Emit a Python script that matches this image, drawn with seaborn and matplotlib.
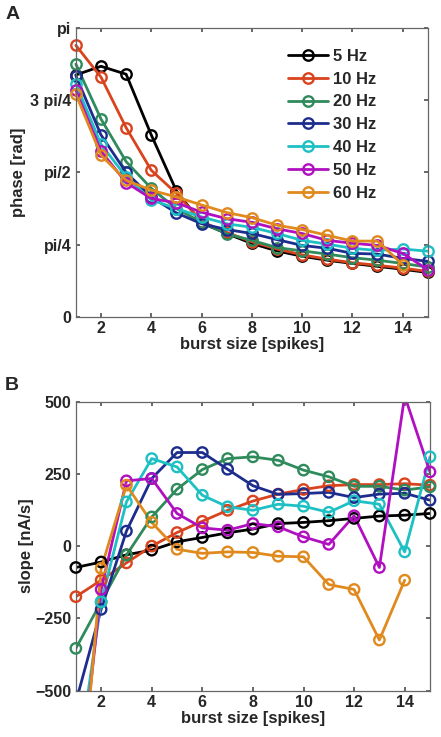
import numpy as np
import pandas as pd
import matplotlib
matplotlib.use("Agg")
import matplotlib.pyplot as plt
import seaborn as sns

# burst sizes and frequencies
burst = list(range(1, 16))
freqs = ["5 Hz", "10 Hz", "20 Hz", "30 Hz", "40 Hz", "50 Hz", "60 Hz"]
colors = ["#000000", "#D9431E", "#2F8A5C", "#1D2D8E", "#1FC0C4", "#B010C0", "#E08A1E"]

# phase (in units of pi/4)
phase_5 = [3.35, 3.47, 3.36, 2.52, 1.745, 1.30, 1.155, 1.017, 0.914, 0.84, 0.785, 0.74, 0.70, 0.66, 0.615]
phase_10 = [3.76, 3.32, 2.62, 2.03, 1.71, 1.32, 1.17, 1.04, 0.94, 0.86, 0.80, 0.75, 0.715, 0.675, 0.63]
phase_20 = [3.50, 2.74, 2.15, 1.78, 1.50, 1.31, 1.15, 1.06, 0.96, 0.914, 0.87, 0.82, 0.785, 0.74, 0.69]
phase_30 = [3.34, 2.52, 2.00, 1.66, 1.44, 1.29, 1.21, 1.155, 1.07, 0.99, 0.95, 0.88, 0.87, 0.81, 0.77]
phase_40 = [3.23, 2.39, 1.94, 1.62, 1.50, 1.385, 1.29, 1.24, 1.155, 1.06, 1.007, 0.95, 0.92, 0.94, 0.91]
phase_50 = [3.14, 2.295, 1.86, 1.64, 1.58, 1.45, 1.36, 1.31, 1.22, 1.155, 1.06, 1.02, 0.99, 0.88, 0.655]
phase_60 = [3.085, 2.24, 1.89, 1.755, 1.66, 1.55, 1.445, 1.375, 1.27, 1.21, 1.13, 1.05, 1.05, 0.725, np.nan]

# slope [nA/s]
slope_5 = [-74, -55, -30, -14, 15, 30, 46, 59, 78, 82, 88, 96, 104, 107, 113]
slope_10 = [-175, -118, -58, 0, 47, 86, 124, 156, 180, 196, 209, 213, 213, 216, 211]
slope_20 = [-354, -193, -31, 101, 197, 265, 303, 309, 297, 263, 240, 207, 207, 194, 205]
slope_30 = [-540, -219, 52, 234, 324, 324, 266, 209, 179, 182, 186, 168, 180, 183, 159]
slope_40 = [-800, -193, 153, 303, 274, 176, 136, 124, 145, 138, 117, 157, 145, -20, 309]
slope_50 = [-950, -150, 226, 234, 113, 63, 55, 78, 67, 32, 6, 105, -74, 520, 257]
slope_60 = [-1080, -77, 211, 82, -11, -25, -20, -22, -35, -37, -133, -150, -325, -118, np.nan]

phases = [phase_5, phase_10, phase_20, phase_30, phase_40, phase_50, phase_60]
slopes = [slope_5, slope_10, slope_20, slope_30, slope_40, slope_50, slope_60]

sns.set_theme(style="ticks")
plt.rcParams["font.family"] = ["Liberation Sans", "DejaVu Sans"]
plt.rcParams["font.weight"] = "bold"
plt.rcParams["axes.labelweight"] = "bold"
plt.rcParams["xtick.direction"] = "in"
plt.rcParams["ytick.direction"] = "in"

fig = plt.figure(figsize=(4.41, 7.37), dpi=100)
axA = fig.add_axes([0.172, 0.570, 0.798, 0.392])
axB = fig.add_axes([0.172, 0.063, 0.803, 0.392])

mk = dict(marker="o", markersize=7.5, markerfacecolor="none", markeredgewidth=1.7)

for name, col, ph in zip(freqs, colors, phases):
    df = pd.DataFrame({"burst": burst, "phase": np.array(ph) * np.pi / 4}).dropna()
    sns.lineplot(data=df, x="burst", y="phase", color=col, markeredgecolor=col,
                 label=name, ax=axA, linewidth=2, estimator=None, clip_on=False, **mk)

# panel B: lines clipped to the axes, circles only where inside the range
for name, col, sl in zip(freqs, colors, slopes):
    df = pd.DataFrame({"burst": burst, "slope": sl}).dropna()
    sns.lineplot(data=df, x="burst", y="slope", color=col, linewidth=2,
                 estimator=None, ax=axB)
    inside = df[(df.slope >= -500) & (df.slope <= 500)]
    sns.scatterplot(data=inside, x="burst", y="slope", marker="o", s=56,
                    facecolors="none", edgecolors=col, linewidths=1.7,
                    clip_on=False, ax=axB, zorder=3)

# panel A styling
axA.set_xlim(1, 15)
axA.set_ylim(0, np.pi)
axA.set_yticks([0, np.pi / 4, np.pi / 2, 3 * np.pi / 4, np.pi])
axA.set_yticklabels(["0", "pi/4", "pi/2", "3 pi/4", "pi"])
axA.set_xlabel("burst size [spikes]", fontsize=12, labelpad=1)
axA.set_ylabel("phase [rad]", fontsize=12, labelpad=3)
leg = axA.legend(loc="upper right", frameon=False, fontsize=12, handlelength=2.4,
                 handletextpad=0.3, labelspacing=0.47, bbox_to_anchor=(0.895, 0.98))
for t in leg.get_texts():
    t.set_fontweight("bold")

# panel B styling
axB.set_xlim(1, 15)
axB.set_ylim(-500, 500)
axB.set_yticks([-500, -250, 0, 250, 500])
axB.set_yticklabels(["\u2212500", "\u2212250", "0", "250", "500"])
axB.set_xlabel("burst size [spikes]", fontsize=12, labelpad=1)
axB.set_ylabel("slope [nA/s]", fontsize=12, labelpad=1)

for ax in (axA, axB):
    ax.set_xticks(range(2, 15, 2))
    ax.tick_params(axis="both", labelsize=11.5, top=True, right=True, length=3,
                   color="#555555", pad=3)
    for lab in ax.get_xticklabels() + ax.get_yticklabels():
        lab.set_fontweight("bold")
    for s in ax.spines.values():
        s.set_visible(True)
        s.set_color("#666666")
        s.set_linewidth(0.9)

fig.text(0.012, 0.981, "A", fontsize=14, fontweight="bold", va="center")
fig.text(0.010, 0.477, "B", fontsize=14, fontweight="bold", va="center")

fig.savefig("out.png", dpi=100)
